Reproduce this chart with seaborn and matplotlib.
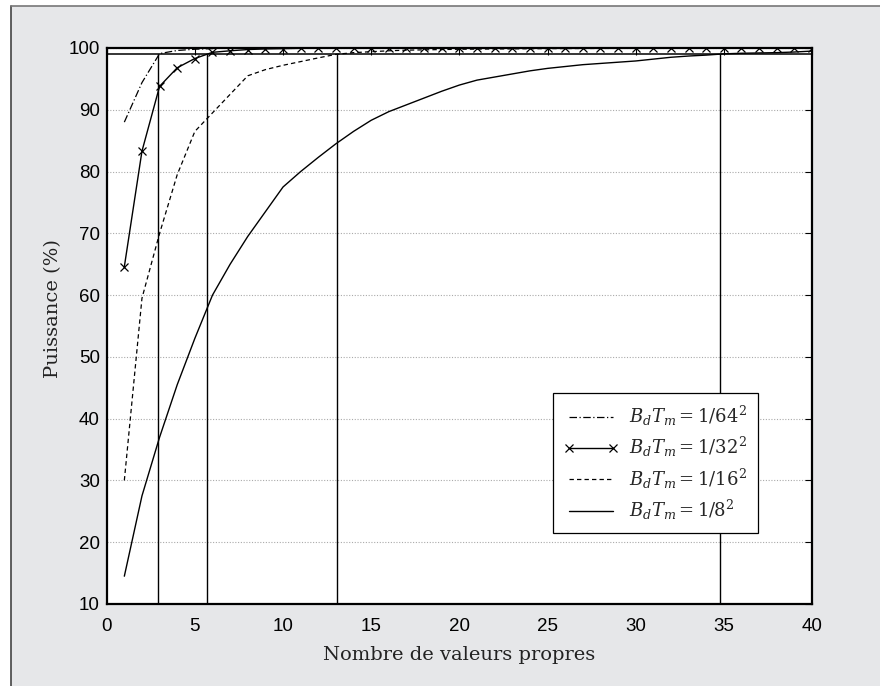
import matplotlib
matplotlib.use("Agg")
import matplotlib.pyplot as plt
import seaborn as sns
import numpy as np
import pandas as pd
from matplotlib.patches import Rectangle
from matplotlib.lines import Line2D

# ---- data ----
n_vp = list(range(1, 41))

p_64 = [88.0, 94.4, 99.1, 99.6, 99.8, 99.9] + [100.0] * 34
p_32 = [64.6, 83.3, 93.8, 96.8, 98.3, 99.3, 99.55, 99.75, 99.85, 99.9,
        99.95, 99.95, 99.97, 99.97, 99.98] + [100.0] * 25
p_16 = [30.0, 59.5, 70.0, 79.5, 86.5, 89.5, 92.5, 95.5, 96.5, 97.2,
        97.8, 98.4, 98.97, 99.25, 99.4, 99.55, 99.65, 99.7, 99.75, 99.8,
        99.82, 99.84, 99.86, 99.88, 99.9, 99.91, 99.92, 99.93, 99.94, 99.95,
        99.96, 99.96, 99.97, 99.97, 99.98, 99.98, 99.99, 99.99, 100.0, 100.0]
p_8 = [14.5, 27.5, 37.0, 45.5, 53.0, 60.0, 65.0, 69.5, 73.5, 77.5,
       80.0, 82.3, 84.5, 86.5, 88.3, 89.7, 90.8, 91.9, 93.0, 94.0,
       94.8, 95.3, 95.8, 96.3, 96.7, 97.0, 97.3, 97.5, 97.7, 97.9,
       98.2, 98.5, 98.7, 98.85, 99.05, 99.15, 99.2, 99.25, 99.35, 99.5]

series_labels = [r'$B_dT_m = \mathit{1/64}^2$', r'$B_dT_m = \mathit{1/32}^2$',
                 r'$B_dT_m = \mathit{1/16}^2$', r'$B_dT_m = \mathit{1/8}^2$']

seuil = 99.0
seuil_x = [2.92, 5.7, 13.06, 34.8]

x_ticks = [0, 5, 10, 15, 20, 25, 30, 35, 40]
y_ticks = [10, 20, 30, 40, 50, 60, 70, 80, 90, 100]

# ---- style ----
sns.set_style("white")
plt.rcParams['font.family'] = ['Liberation Sans', 'DejaVu Sans']
plt.rcParams['mathtext.fontset'] = 'dejavuserif'

W, H = 880, 686
fig = plt.figure(figsize=(W / 100, H / 100), dpi=100, facecolor='white')

# gray panel with left/top border
bg = '#e6e7e9'
fig.patches.append(Rectangle((11 / W, 0), 1, 1 - 6 / H, transform=fig.transFigure,
                             facecolor=bg, edgecolor='none', zorder=-10))
fig.lines.append(Line2D([11 / W, 11 / W], [0, 1 - 6 / H], transform=fig.transFigure,
                        color='#444444', lw=1.2))
fig.lines.append(Line2D([11 / W, 1], [1 - 6 / H, 1 - 6 / H], transform=fig.transFigure,
                        color='#777777', lw=1.2))

ax = fig.add_axes([106.7 / W, (H - 604) / H, (812 - 106.7) / W, (604 - 48) / H])
ax.set_facecolor('white')

df = pd.DataFrame({'n': n_vp, 'p64': p_64, 'p32': p_32, 'p16': p_16, 'p8': p_8})

sns.lineplot(data=df, x='n', y='p64', ax=ax, color='black', lw=0.9,
             linestyle=(0, (6, 2, 1, 2)), label=series_labels[0])
sns.lineplot(data=df, x='n', y='p32', ax=ax, color='black', lw=1.0,
             marker='x', markersize=5.5, markeredgewidth=0.9, markeredgecolor='black',
             label=series_labels[1])
sns.lineplot(data=df, x='n', y='p16', ax=ax, color='black', lw=0.9,
             linestyle=(0, (3.5, 2.5)), label=series_labels[2])
sns.lineplot(data=df, x='n', y='p8', ax=ax, color='black', lw=1.0,
             label=series_labels[3])

ax.axhline(seuil, color='black', lw=1.1, zorder=1)
ax.vlines(seuil_x, 10, seuil, color='black', lw=1.0, zorder=1)

ax.set_xlim(0, 40)
ax.set_ylim(10, 100)
ax.set_xticks(x_ticks)
ax.set_yticks(y_ticks)
ax.tick_params(direction='in', length=5, width=0.8, labelsize=13.5, colors='black',
               top=True, right=True)
ax.tick_params(axis='x', pad=10)
ax.tick_params(axis='y', pad=5)
ax.yaxis.grid(True, linestyle=(0, (1, 1.5)), color='#aaaaaa', lw=0.8)
ax.xaxis.grid(False)
for s in ax.spines.values():
    s.set_color('black')
    s.set_linewidth(1.6)

ax.set_xlabel('Nombre de valeurs propres', family=['DejaVu Serif'], fontsize=14,
              color='#222222', labelpad=8)
ax.set_ylabel('Puissance (%)', family=['DejaVu Serif'], fontsize=14,
              color='#222222')
ax.yaxis.set_label_coords(-0.063, 0.532)

leg = ax.legend(loc='upper left', bbox_to_anchor=(0.633, 0.3795), frameon=True,
                fancybox=False, edgecolor='black', framealpha=1, fontsize=13,
                handlelength=3.0, numpoints=2, borderpad=0.6, labelspacing=0.4,
                handletextpad=0.6, borderaxespad=0)
leg.get_frame().set_linewidth(0.9)

fig.savefig('out.png', dpi=100, facecolor=fig.get_facecolor())
